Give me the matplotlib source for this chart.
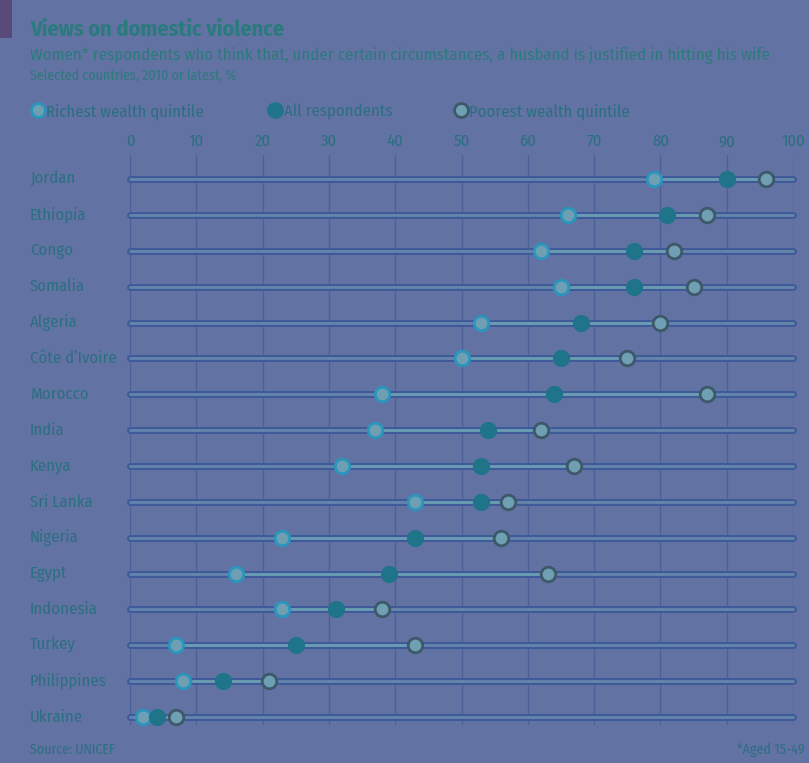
import numpy as np
import matplotlib.pyplot as plt
from matplotlib.patches import Rectangle

countries = ['Jordan', 'Ethiopia', 'Congo', 'Somalia', 'Algeria', "Côte d\u2019Ivoire",
             'Morocco', 'India', 'Kenya', 'Sri Lanka', 'Nigeria', 'Egypt',
             'Indonesia', 'Turkey', 'Philippines', 'Ukraine']
richest = [79, 66, 62, 65, 53, 50, 38, 37, 32, 43, 23, 16, 23, 7, 8, 2]
all_resp = [90, 81, 76, 76, 68, 65, 64, 54, 53, 53, 43, 39, 31, 25, 14, 4]
poorest = [96, 87, 82, 85, 80, 75, 87, 62, 67, 57, 56, 63, 38, 43, 21, 7]
ticks = [0, 10, 20, 30, 40, 50, 60, 70, 80, 90, 100]

bg = '#6273a3'
txt = '#2b6f80'
rich_c = '#2a95bd'
all_c = '#1f7489'
poor_c = '#3d5868'
dot_fill = '#6e9fb2'
plt.rcParams['font.family'] = ['Fira Sans Condensed', 'PT Sans Narrow', 'DejaVu Sans']

fig = plt.figure(figsize=(8.09, 7.63), dpi=100, facecolor=bg)
W, H = 809, 763

ax = fig.add_axes([130 / W, 1 - 725 / H, 663 / W, 570 / H])
ax.set_facecolor(bg)
n = len(countries)
y = np.arange(n)
ax.set_xlim(0, 100)
ax.set_ylim(15.22, -0.67)

for t in ticks:
    ax.axvline(t, color='#4a609a', lw=1, zorder=1)

# capsule track for each country
for i in range(n):
    ax.plot([0, 100], [i, i], color='#3f5a98', lw=5, solid_capstyle='round', zorder=2, clip_on=False)
    ax.plot([0, 100], [i, i], color='#6585ad', lw=2, solid_capstyle='round', zorder=3, clip_on=False)
    ax.plot([richest[i], poorest[i]], [i, i], color='#6a9cb2', lw=2, zorder=3)

ax.scatter(richest, y, s=110, facecolor=dot_fill, edgecolor=rich_c, linewidth=2, zorder=5, clip_on=False)
ax.scatter(all_resp, y, s=130, facecolor=all_c, edgecolor=all_c, linewidth=1, zorder=6, clip_on=False)
ax.scatter(poorest, y, s=110, facecolor=dot_fill, edgecolor=poor_c, linewidth=2, zorder=5, clip_on=False)

ax.xaxis.tick_top()
ax.set_xticks(ticks)
ax.set_xticklabels([str(t) for t in ticks], color=txt, fontsize=12)
ax.tick_params(axis='x', length=0, pad=4)
ax.set_yticks([])
for s in ax.spines.values():
    s.set_visible(False)

for i, c in enumerate(countries):
    fig.text(30 / W, 1 - (179 + i * 35.87) / H, c, color=txt, fontsize=12, va='center', ha='left')

fig.patches.append(Rectangle((0, 1 - 38 / H), 12 / W, 38 / H, transform=fig.transFigure,
                             facecolor='#5a4a7c', edgecolor='none'))
fig.text(30 / W, 1 - 30 / H, 'Views on domestic violence', color='#2a7a7e', fontsize=16,
         fontweight='bold', va='center')
fig.text(30 / W, 1 - 56 / H, 'Women* respondents who think that, under certain circumstances, '
         'a husband is justified in hitting his wife', color='#2c7a7c', fontsize=12.2, va='center')
fig.text(30 / W, 1 - 76 / H, 'Selected countries, 2010 or latest, %', color='#2c7a7c',
         fontsize=10, va='center')

leg_y = 1 - 110 / H
fig.lines.append(plt.Line2D([38 / W], [leg_y], transform=fig.transFigure, marker='o', ms=10,
                            mfc=dot_fill, mec=rich_c, mew=2))
fig.text(46 / W, leg_y, 'Richest wealth quintile', color=txt, fontsize=12, va='center_baseline')
fig.lines.append(plt.Line2D([275 / W], [leg_y], transform=fig.transFigure, marker='o', ms=11,
                            mfc=all_c, mec=all_c))
fig.text(284 / W, leg_y, 'All respondents', color=txt, fontsize=12, va='center_baseline')
fig.lines.append(plt.Line2D([461 / W], [leg_y], transform=fig.transFigure, marker='o', ms=10,
                            mfc=dot_fill, mec=poor_c, mew=2))
fig.text(469 / W, leg_y, 'Poorest wealth quintile', color=txt, fontsize=12, va='center_baseline')

fig.text(30 / W, 1 - 750 / H, 'Source: UNICEF', color=txt, fontsize=10, va='center')
fig.text(805 / W, 1 - 750 / H, '*Aged 15-49', color=txt, fontsize=10, va='center', ha='right')

plt.savefig('out.png', dpi=100, facecolor=bg)
